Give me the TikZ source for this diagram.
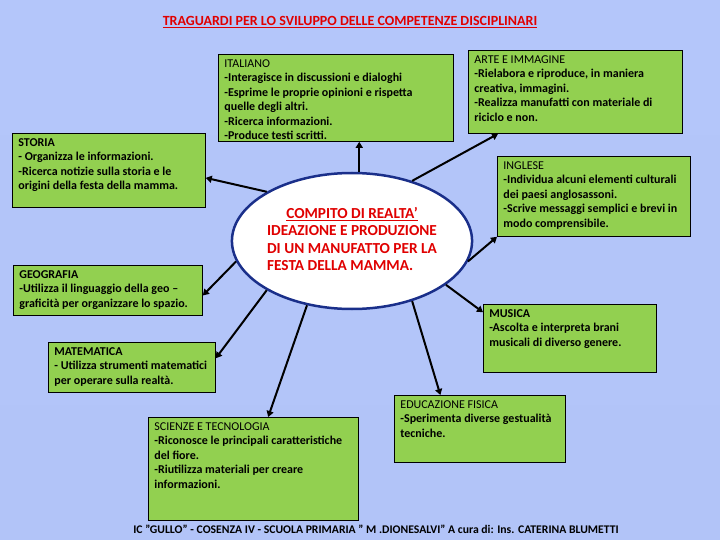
\documentclass[tikz,border=0pt]{standalone}
\usepackage{fontspec}
\setmainfont{Carlito}
\usepackage{tikz}
\usetikzlibrary{
  positioning,
  arrows.meta,
  calc,
  shapes.geometric
}
\usepackage{xcolor}
\definecolor{bgtop}{HTML}{B4C6FA}
\definecolor{bgmid}{HTML}{B488F2}
\definecolor{bgbottom}{HTML}{B2C4F8}
\definecolor{boxgreen}{HTML}{92D050}
\definecolor{titlered}{HTML}{E00000}
\definecolor{navy}{HTML}{1A2F8A}

\begin{document}
\begin{tikzpicture}[
  x=1pt, y=-1pt,
  subj/.style 2 args={draw=black, line width=0.8pt, fill=boxgreen, anchor=north west,
              inner xsep=6pt, inner ysep=5pt, font=\fontsize{12}{14.5}\selectfont,
              execute at begin node={\begin{minipage}[t][#2][t]{#1}\raggedright},
              execute at end node={\end{minipage}}},
  goal/.style={ellipse, draw=navy, line width=2.5pt, fill=white, inner sep=0pt,
               minimum width=206pt, minimum height=136pt, text=titlered,
               font=\fontsize{15.3}{17.5}\selectfont\bfseries},
  arr/.style={-{Triangle[length=6pt, width=7pt]}, line width=2pt, black}
]
  % background
  \useasboundingbox (0,0) rectangle (720,540);
  \shade[top color=bgtop, middle color=bgmid, bottom color=bgbottom] (0,0) rectangle (720,540);

  % heading and footer
  \node[font=\fontsize{14}{16}\selectfont\bfseries, text=titlered] (title) at (350,22)
    {\underline{TRAGUARDI PER LO SVILUPPO DELLE COMPETENZE DISCIPLINARI}};
  \node[font=\fontsize{11.7}{13}\selectfont\bfseries] (footer) at (376,529)
    {IC "GULLO" - COSENZA IV - SCUOLA PRIMARIA " M .DIONESALVI” A cura di: Ins. CATERINA BLUMETTI};

  % central task
  \node[goal] (compito) at (352,241)
    {\begin{tabular}{@{}l@{}}
      \multicolumn{1}{@{}c@{}}{\underline{COMPITO DI REALTA’}}\\
      IDEAZIONE E PRODUZIONE\\
      DI UN MANUFATTO PER LA\\
      FESTA DELLA MAMMA.
     \end{tabular}};

  % subject boxes
  \node[subj={223pt}{77pt}] (italiano) at (218,54)
    {ITALIANO\\ \bfseries -Interagisce in discussioni e dialoghi\\
     -Esprime le proprie opinioni e rispetta\\ quelle degli altri.\\
     -Ricerca informazioni.\\ -Produce testi scritti.};
  \node[subj={202pt}{73pt}] (arte) at (468,50)
    {ARTE E IMMAGINE\\ \bfseries -Rielabora e riproduce, in maniera\\ creativa, immagini.\\
     -Realizza manufatti con materiale di\\ riciclo e non.};
  \node[subj={181pt}{64pt}] (storia) at (12,133)
    {\bfseries STORIA\\ - Organizza le informazioni.\\
     -Ricerca notizie sulla storia e le\\ origini della festa della mamma.};
  \node[subj={181pt}{70pt}] (inglese) at (497,156)
    {INGLESE\\ \bfseries -Individua alcuni elementi culturali\\ dei paesi anglosassoni.\\
     -Scrive messaggi semplici e brevi in\\ modo comprensibile.};
  \node[subj={177pt}{40pt}] (geografia) at (13,265)
    {\bfseries GEOGRAFIA\\ -Utilizza il linguaggio della geo –\\ graficità per organizzare lo spazio.};
  \node[subj={161pt}{58pt}] (musica) at (483,304)
    {\bfseries MUSICA\\ -Ascolta e interpreta brani\\ musicali di diverso genere.};
  \node[subj={155pt}{40pt}] (matematica) at (48,342)
    {\bfseries MATEMATICA\\ - Utilizza strumenti matematici\\ per operare sulla realtà.};
  \node[subj={198pt}{93pt}] (scienze) at (148,417)
    {SCIENZE E TECNOLOGIA\\ \bfseries -Riconosce le principali caratteristiche\\ del fiore.\\
     -Riutilizza materiali per creare\\ informazioni.};
  \node[subj={159pt}{57pt}] (educazione) at (394,395)
    {EDUCAZIONE FISICA\\ \bfseries -Sperimenta diverse gestualità\\ tecniche.};

  % connectors
  \draw[arr] (compito.84) -- (compito.84 |- italiano.south);
  \draw[arr] (compito.45) -- ($(arte.south west)!0.14!(arte.south east)$);
  \draw[arr] (compito.-10) -- (inglese.south west);
  \draw[arr] (compito.-25) -- ($(musica.north west)!0.12!(musica.south west)$);
  \draw[arr] (compito.-45) -- ($(educazione.north west)!0.27!(educazione.north east)$);
  \draw[arr] (compito.-125) -- ($(scienze.north west)!0.57!(scienze.north east)$);
  \draw[arr] (compito.-150) -- ($(matematica.north east)!0.32!(matematica.south east)$);
  \draw[arr] (compito.-170) -- ($(geografia.north east)!0.6!(geografia.south east)$);
  \draw[arr] (compito.150) -- ($(storia.north east)!0.6!(storia.south east)$);
\end{tikzpicture}
\end{document}
